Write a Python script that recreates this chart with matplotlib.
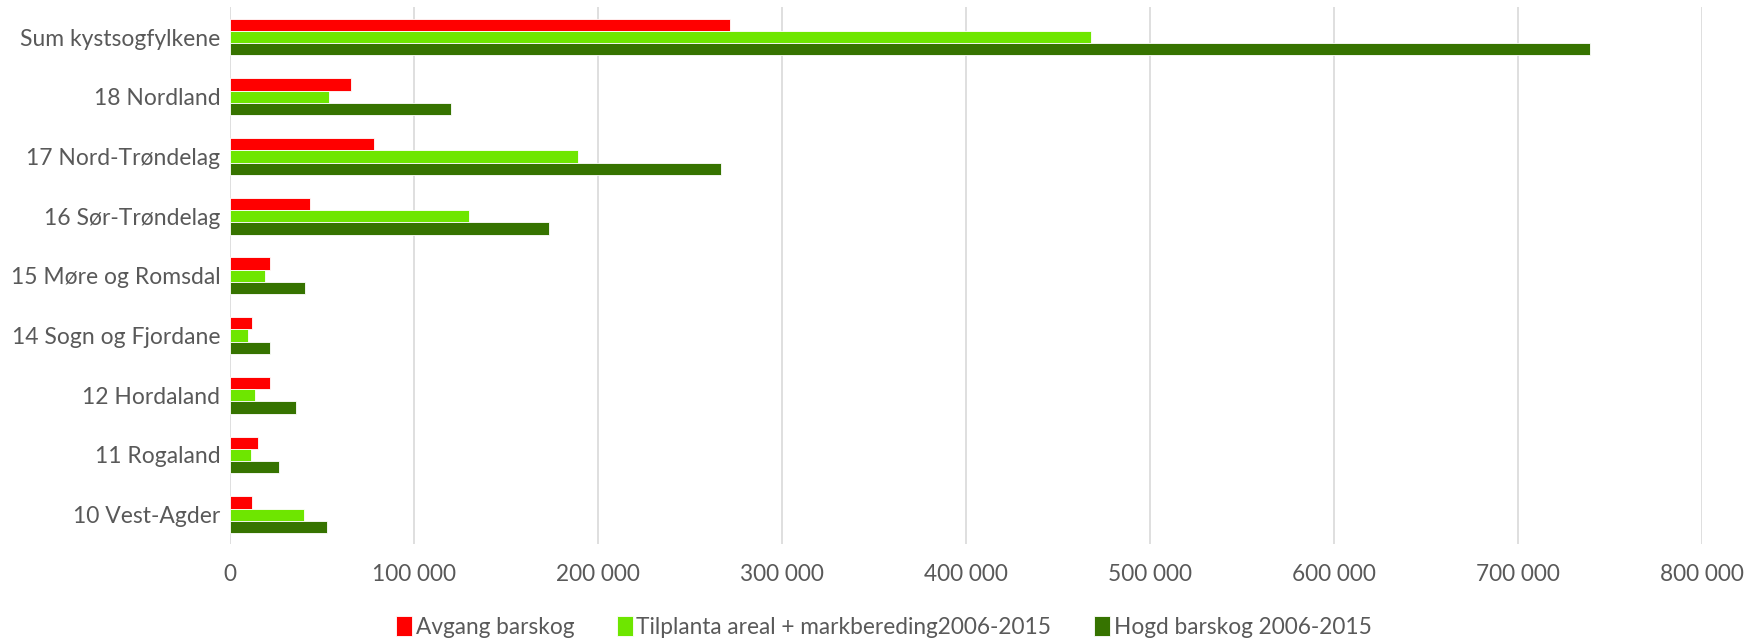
import numpy as np
import matplotlib
matplotlib.use("Agg")
import matplotlib.pyplot as plt
from matplotlib.ticker import FuncFormatter

# --- Data ---
categories = ["Sum kystsogfylkene", "18 Nordland", "17 Nord-Trøndelag", "16 Sør-Trøndelag",
              "15 Møre og Romsdal", "14 Sogn og Fjordane", "12 Hordaland", "11 Rogaland",
              "10 Vest-Agder"]
avgang = [272000, 66000, 78500, 43600, 21500, 11800, 21800, 15300, 12100]
tilplanta = [468000, 54000, 189000, 130000, 19300, 9700, 13700, 11200, 40200]
hogd = [739000, 120000, 267000, 173500, 40800, 21800, 35800, 26800, 52600]
series_names = ["Avgang barskog", "Tilplanta areal + markbereding2006-2015", "Hogd barskog 2006-2015"]
xticks = [0, 100000, 200000, 300000, 400000, 500000, 600000, 700000, 800000]

colors = ["#FF0000", "#6EE600", "#367300"]
text_col = "#595959"
plt.rcParams['font.family'] = ['Lato', 'DejaVu Sans']

# --- Plot ---
fig = plt.figure(figsize=(17.61, 6.39), dpi=100)
ax = fig.add_axes([0.1306, 0.1479, 0.8359, 0.8408])

n = len(categories)
y = np.arange(n)[::-1]  # first category on top
h = 0.205
for i, (vals, c, name) in enumerate(zip([avgang, tilplanta, hogd], colors, series_names)):
    ax.barh(y + (1 - i) * h, vals, height=h, color=c, label=name,
            edgecolor="white", linewidth=0.6)

ax.set_ylim(-0.5, n - 0.5)
ax.set_xlim(0, 800000)
ax.set_yticks(y)
ax.set_yticklabels(categories, fontsize=16.5, color=text_col)
ax.set_xticks(xticks)
ax.xaxis.set_major_formatter(FuncFormatter(lambda v, p: f"{int(v):,}".replace(",", " ")))
ax.tick_params(axis='x', labelsize=16.3, labelcolor=text_col, length=0, pad=14)
ax.tick_params(axis='y', length=0, pad=7)
ax.grid(axis='x', color="#D9D9D9", linewidth=1.2)
ax.set_axisbelow(True)
for s in ax.spines.values():
    s.set_visible(False)

fig.legend(loc='lower center', bbox_to_anchor=(0.502, -0.03), ncol=3, frameon=False,
           fontsize=16.3, handlelength=0.7, handleheight=0.95, handletextpad=0.15,
           columnspacing=1.9, labelcolor=text_col)

fig.savefig("out.png", dpi=100)
